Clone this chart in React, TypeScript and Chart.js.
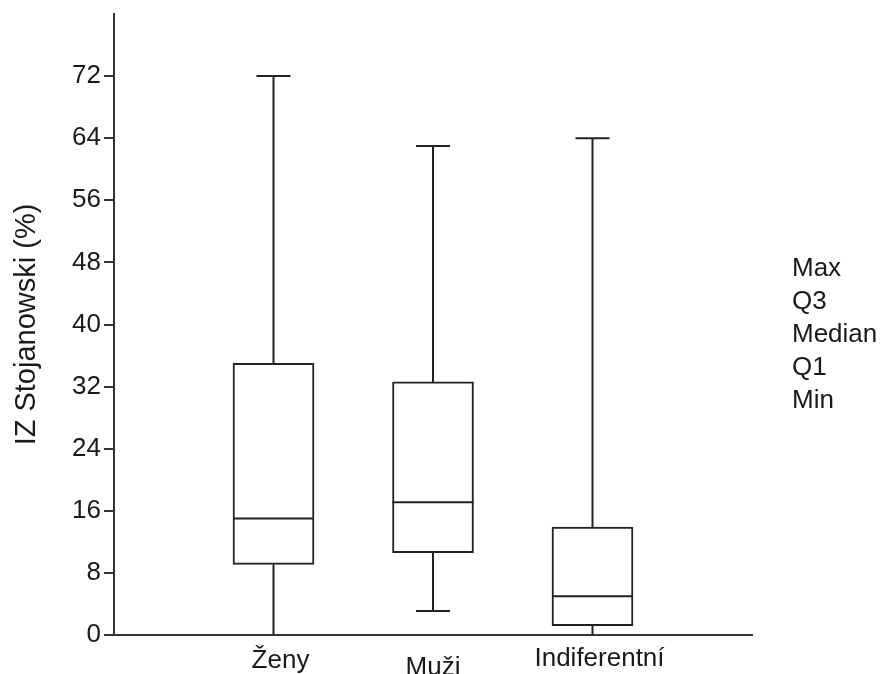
import React, { useEffect, useRef } from "react";
import { Chart, registerables } from "chart.js";

Chart.register(...registerables);

const categories = ["Ženy", "Muži", "Indiferentní"];
const positions = [1, 2, 3];
const maxValues = [72, 63, 64];
const q3Values = [35, 32.6, 13.9];
const medianValues = [15, 17.1, 5.0];
const q1Values = [9.1, 10.6, 1.2];
const minValues = [0, 3.1, 0];
const yTickValues = [0, 8, 16, 24, 32, 40, 48, 56, 64, 72];
const legendLabels = ["Max", "Q3", "Median", "Q1", "Min"];
const yTitle = "IZ Stojanowski (%)";

const FONT = "Arial, 'Liberation Sans', sans-serif";
const TEXT = "#1a1a1a";
const LINE = "#222222";

const boxPlugin = {
  id: "boxExtras",
  afterDatasetsDraw(chart: any) {
    const { ctx, scales } = chart;
    const xs = scales.x;
    const ys = scales.y;
    ctx.save();
    ctx.strokeStyle = LINE;
    ctx.lineWidth = 2;
    const halfBox = 40.5;
    const halfCap = 17;
    for (let i = 0; i < categories.length; i++) {
      const cx = xs.getPixelForValue(positions[i]);
      const yMax = ys.getPixelForValue(maxValues[i]);
      const yQ3 = ys.getPixelForValue(q3Values[i]);
      const yMed = ys.getPixelForValue(medianValues[i]);
      const yQ1 = ys.getPixelForValue(q1Values[i]);
      const yMin = ys.getPixelForValue(minValues[i]);
      ctx.beginPath();
      ctx.moveTo(cx, yQ3);
      ctx.lineTo(cx, yMax);
      ctx.moveTo(cx - halfCap, yMax);
      ctx.lineTo(cx + halfCap, yMax);
      ctx.moveTo(cx, yQ1);
      ctx.lineTo(cx, yMin);
      if (minValues[i] > 0) {
        ctx.moveTo(cx - halfCap, yMin);
        ctx.lineTo(cx + halfCap, yMin);
      }
      ctx.moveTo(cx - halfBox, yMed);
      ctx.lineTo(cx + halfBox, yMed);
      ctx.stroke();
    }
    ctx.restore();
  },
  afterDraw(chart: any) {
    const { ctx, scales, chartArea } = chart;
    const xs = scales.x;
    ctx.save();
    ctx.fillStyle = TEXT;
    ctx.font = `26px ${FONT}`;
    // category labels (staggered as in the reference)
    const labelDx = [7, 0, 7];
    const labelBaseline = [668, 675, 666];
    ctx.textAlign = "center";
    ctx.textBaseline = "alphabetic";
    for (let i = 0; i < categories.length; i++) {
      const cx = xs.getPixelForValue(positions[i]);
      ctx.fillText(categories[i], cx + labelDx[i], labelBaseline[i]);
    }
    // right-side legend text
    ctx.textAlign = "left";
    ctx.textBaseline = "middle";
    for (let i = 0; i < legendLabels.length; i++) {
      ctx.fillText(legendLabels[i], 792, 269 + i * 33);
    }
    // y-axis title
    ctx.font = `29px ${FONT}`;
    ctx.translate(27, (chartArea.top + chartArea.bottom) / 2);
    ctx.rotate(-Math.PI / 2);
    ctx.textAlign = "center";
    ctx.textBaseline = "middle";
    ctx.fillText(yTitle, 0, 0);
    ctx.restore();
  },
};

export default function App() {
  const ref = useRef<HTMLCanvasElement | null>(null);
  useEffect(() => {
    if (!ref.current) return;
    const chart = new Chart(ref.current, {
      type: "bar",
      data: {
        datasets: [
          {
            data: positions.map((p, i) => ({ x: p, y: [q1Values[i], q3Values[i]] })) as any,
            backgroundColor: "#ffffff",
            borderColor: LINE,
            borderWidth: 2,
            borderSkipped: false,
            barThickness: 81,
          } as any,
        ],
      },
      options: {
        animation: false,
        responsive: true,
        maintainAspectRatio: false,
        layout: { padding: { top: 14, right: 133, bottom: 0, left: 0 } },
        plugins: { legend: { display: false }, tooltip: { enabled: false } },
        scales: {
          x: {
            type: "linear",
            min: 0,
            max: 4,
            offset: false,
            ticks: { display: false },
            grid: { display: false },
            border: { display: true, color: "#333333", width: 2 },
            afterFit: (s: any) => {
              s.height = 39;
              s.paddingLeft = 0;
              s.paddingRight = 0;
            },
          },
          y: {
            type: "linear",
            min: 0,
            max: 80,
            afterBuildTicks: (s: any) => {
              s.ticks = yTickValues.map((v) => ({ value: v }));
            },
            ticks: {
              color: TEXT,
              font: { family: FONT, size: 26 },
              padding: 3,
            },
            grid: {
              drawOnChartArea: false,
              drawTicks: true,
              tickLength: 10,
              color: "#333333",
              lineWidth: 2,
            },
            border: { display: true, color: "#333333", width: 2 },
            afterFit: (s: any) => {
              s.width = 114;
              s.paddingTop = 0;
              s.paddingBottom = 0;
            },
          },
        },
      },
      plugins: [boxPlugin],
    });
    return () => chart.destroy();
  }, []);
  return (
    <div style={{ position: "fixed", left: 0, top: 0, width: 885, height: 674, background: "#fff" }}>
      <canvas ref={ref} />
    </div>
  );
}
